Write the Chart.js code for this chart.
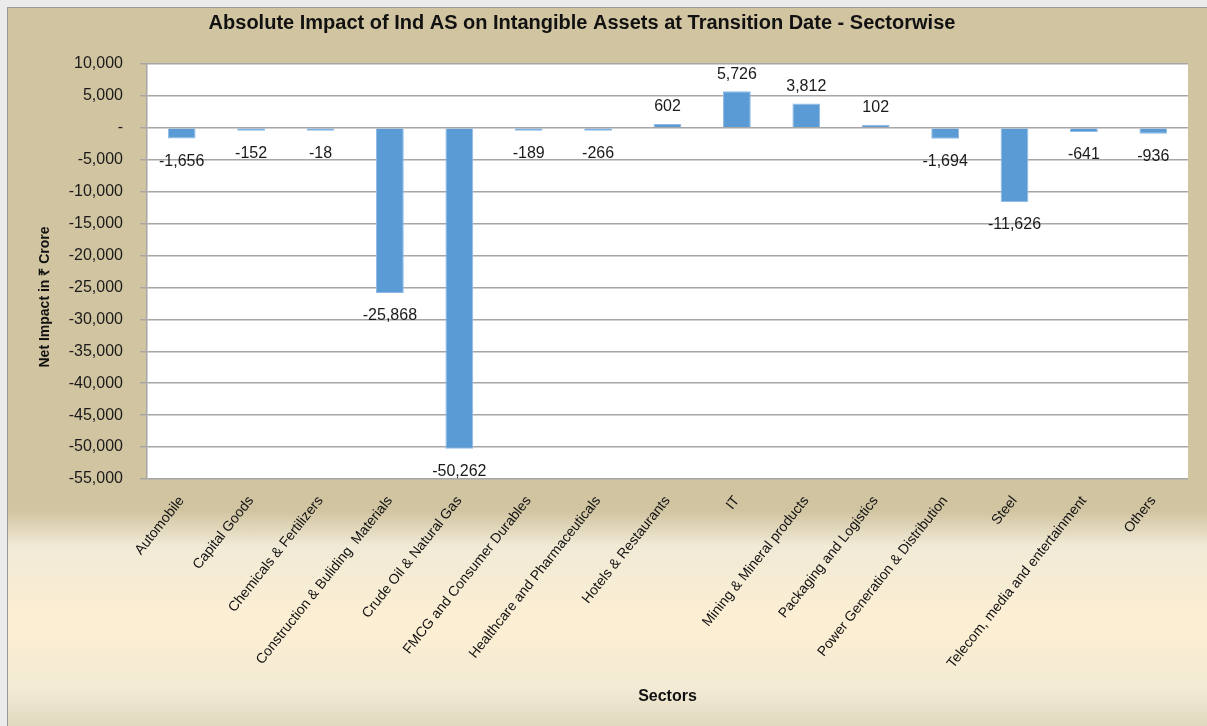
<!DOCTYPE html>
<html>
<head>
<meta charset="utf-8">
<title>Absolute Impact of Ind AS on Intangible Assets</title>
<script src="https://cdn.jsdelivr.net/npm/chart.js@4"></script>
<style>
    html, body { margin: 0; padding: 0; background: #ebebeb; overflow: hidden; }
    #frame {
        position: absolute; left: 7px; top: 7px;
        width: 1199px; height: 718px;
        border-left: 1px solid #9a9a9a; border-top: 1px solid #9a9a9a;
        background: linear-gradient(to bottom,
            #d1c4a1 0%, #d1c4a1 70%, #f1ead6 75%,
            #fdefd3 86%, #f2ead4 95%, #e0d8be 100%);
    }
    #chart { display: block; }
</style>
</head>
<body>
<div id="frame"><canvas id="chart" width="1199" height="718"></canvas></div>
<script>
/* ============================================
   Sector data (₹ crore)
   ============================================ */

const sectors = [
    'Automobile',
    'Capital Goods',
    'Chemicals & Fertilizers',
    'Construction & Buliding  Materials',
    'Crude Oil & Natural Gas',
    'FMCG and Consumer Durables',
    'Healthcare and Pharmaceuticals',
    'Hotels & Restaurants',
    'IT',
    'Mining & Mineral products',
    'Packaging and Logistics',
    'Power Generation & Distribution',
    'Steel',
    'Telecom, media and entertainment',
    'Others'
];

const netImpact = [-1656, -152, -18, -25868, -50262, -189, -266, 602, 5726, 3812, 102, -1694, -11626, -641, -936];

const yTicks = [10000, 5000, 0, -5000, -10000, -15000, -20000, -25000, -30000, -35000, -40000, -45000, -50000, -55000];

const chartTitle = 'Absolute Impact of Ind AS on Intangible Assets at Transition Date - Sectorwise';
const yTitle = 'Net Impact in ₹ Crore';
const xTitle = 'Sectors';

const FONT = "'Liberation Sans', Arial, sans-serif";

function fmt(v) {
    if (v === 0) return '-';
    return v.toLocaleString('en-US');
}

// white plot area, title texts and bar value labels
const decorPlugin = {
    id: 'decor',
    beforeDraw(chart) {
        const { ctx, chartArea: a } = chart;
        ctx.save();
        ctx.fillStyle = '#ffffff';
        ctx.fillRect(a.left, a.top, a.right - a.left, a.bottom - a.top);
        ctx.restore();
    },
    afterDraw(chart) {
        const ctx = chart.ctx;
        ctx.save();
        ctx.fillStyle = '#111111';
        ctx.textAlign = 'center';
        ctx.textBaseline = 'middle';
        ctx.font = 'bold 20px ' + FONT;
        ctx.fillText(chartTitle, 574, 15);

        ctx.translate(37, 289);
        ctx.rotate(-Math.PI / 2);
        ctx.font = 'bold 14px ' + FONT;
        ctx.fillText(yTitle, 0, 0);
        ctx.restore();

        // value labels
        const meta = chart.getDatasetMeta(0);
        ctx.save();
        ctx.font = '16px ' + FONT;
        ctx.fillStyle = '#1a1a1a';
        ctx.textAlign = 'center';
        ctx.textBaseline = 'middle';
        meta.data.forEach((bar, i) => {
            const v = netImpact[i];
            const y = v < 0 ? bar.y + 23 : bar.y - 17;
            ctx.fillText(fmt(v), bar.x, y);
        });
        ctx.restore();
    }
};

new Chart(document.getElementById('chart'), {
    type: 'bar',
    data: {
        labels: sectors,
        datasets: [{
            data: netImpact,
            backgroundColor: '#5b9bd5',
            borderColor: '#8dbae6',
            borderWidth: 1,
            minBarLength: 3,
            barPercentage: 0.4,
            categoryPercentage: 1
        }]
    },
    plugins: [decorPlugin],
    options: {
        responsive: false,
        animation: false,
        layout: { padding: { left: 0, top: 56, right: 19, bottom: 0 } },
        plugins: {
            legend: { display: false },
            tooltip: { enabled: false },
            title: { display: false }
        },
        scales: {
            x: {
                afterFit: s => { s.height = 247; },
                grid: { display: false, drawTicks: false },
                border: { display: false },
                ticks: {
                    autoSkip: false,
                    minRotation: 51.5,
                    maxRotation: 51.5,
                    padding: 14,
                    color: '#111111',
                    font: { family: FONT, size: 14 }
                },
                title: {
                    display: true,
                    text: xTitle,
                    color: '#111111',
                    font: { family: FONT, size: 16, weight: 'bold' },
                    padding: { top: 0, bottom: 20 }
                }
            },
            y: {
                min: -55000,
                max: 10000,
                afterFit: s => { s.width = 139; },
                afterBuildTicks: s => { s.ticks = yTicks.map(v => ({ value: v })); },
                grid: { color: '#a6a6a6', lineWidth: 1.5, tickLength: 7 },
                border: { color: '#a6a6a6', width: 1.5 },
                ticks: {
                    padding: 17,
                    color: '#1a1a1a',
                    font: { family: FONT, size: 16 },
                    callback: v => fmt(v)
                }
            }
        }
    }
});
</script>
</body>
</html>
